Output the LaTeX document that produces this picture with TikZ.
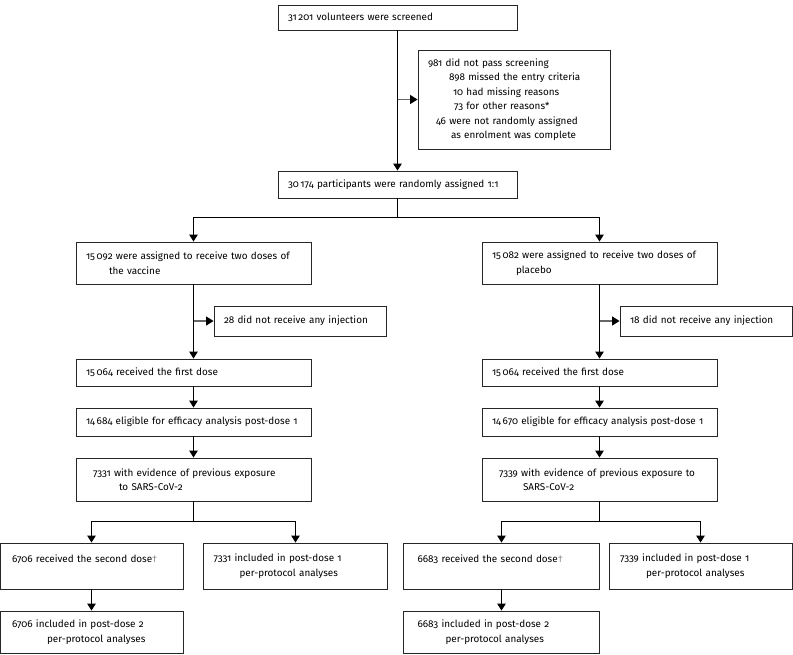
\documentclass[tikz,border=0pt]{standalone}
\usepackage{fontspec}
\setmainfont{Fira Sans}[Numbers=OldStyle]
\usepackage{xcolor}
\usepackage{tikz}
\usetikzlibrary{arrows.meta}

\tikzset{
	box/.style={draw=black!85, line width=0.9pt, rectangle, align=left, inner xsep=10pt, inner ysep=0pt, font=\fontsize{9.9}{14.5}\selectfont},
	flow/.style={line width=1.2pt, -{Triangle[length=7pt,width=8.5pt]}},
	side/.style={line width=1.2pt, draw=black!60, -{Triangle[length=7.5pt,width=9pt,color=black]}},
	stem/.style={line width=1.2pt}
}

\begin{document}
\begin{tikzpicture}[x=1pt, y=-1pt]
	\useasboundingbox (0,0) rectangle (793,654);
	\node[box, text width=219, minimum height=25] (screen) at (397.5,17.5) {31\,201 volunteers were screened};
	\node[box, text width=172, minimum height=99] (excl) at (514,99.5) {981 did not pass screening\\
		\hspace*{21pt}898 missed the entry criteria\\
		\hspace*{25pt}10 had missing reasons\\
		\hspace*{26pt}73 for other reasons*\\
		\hspace*{8pt}46 were not randomly assigned\\
		\hspace*{23pt}as enrolment was complete};
	\node[box, text width=219, minimum height=27] (random) at (397.5,184.5) {30\,174 participants were randomly assigned 1:1};
	\coordinate (split) at (397.5,217.5);

	\node[box, text width=215, minimum height=42] (vacc) at (193.5,263) {15\,092 were assigned to receive two doses of\\\hspace*{23pt}the vaccine};
	\node[box, text width=152, minimum height=30] (noinjL) at (300,321) {28 did not receive any injection};
	\node[box, text width=215, minimum height=27] (doseL) at (193.5,372.5) {15\,064 received the first dose};
	\node[box, text width=221, inner xsep=7pt, minimum height=28] (eligL) at (193.5,422) {\hspace*{3pt}14\,684 eligible for efficacy analysis post-dose 1};
	\node[box, text width=215, minimum height=43] (expoL) at (193.5,479.5) {\hspace*{7pt}7331 with evidence of previous exposure\\\hspace*{33pt}to SARS-CoV-2};
	\coordinate (splitL) at (193.5,521.5);
	\node[box, text width=163, minimum height=46] (dosetwoL) at (91.5,566) {\hspace*{2pt}6706 received the second dose{\color{black!45}\textdagger}\\\mbox{}};
	\node[box, text width=164, minimum height=46] (pponeL) at (295.5,566) {7331 included in post-dose 1\\\hspace*{26pt}per-protocol analyses};
	\node[box, text width=163, minimum height=42] (pptwoL) at (91.5,632) {\hspace*{2pt}6706 included in post-dose 2\\\hspace*{37pt}per-protocol analyses};

	\node[box, text width=215, minimum height=42] (plac) at (599.5,263) {15\,082 were assigned to receive two doses of\\\hspace*{24pt}placebo};
	\node[box, text width=152, minimum height=30] (noinjR) at (706,321) {18 did not receive any injection};
	\node[box, text width=215, minimum height=27] (doseR) at (599.5,372.5) {15\,064 received the first dose};
	\node[box, text width=221, inner xsep=7pt, minimum height=28] (eligR) at (599.5,422) {\hspace*{3pt}14\,670 eligible for efficacy analysis post-dose 1};
	\node[box, text width=215, minimum height=43] (expoR) at (599.5,479.5) {\hspace*{7pt}7339 with evidence of previous exposure to\\\hspace*{31pt}SARS-CoV-2};
	\coordinate (splitR) at (599.5,521.5);
	\node[box, text width=176, minimum height=46] (dosetwoR) at (501.5,566) {\hspace*{4pt}6683 received the second dose{\color{black!45}\textdagger}\\\mbox{}};
	\node[box, text width=163, minimum height=46] (pponeR) at (700.5,566) {\hspace*{1pt}7339 included in post-dose 1\\\hspace*{27pt}per-protocol analyses};
	\node[box, text width=176, minimum height=42] (pptwoR) at (501.5,632) {\hspace*{4pt}6683 included in post-dose 2\\\hspace*{32pt}per-protocol analyses};

	\draw[flow] (screen) -- (random);
	\draw[side] (excl.west -| screen) -- (excl.west);
	\draw[stem] (random) -- (split);
	\draw[flow] (split) -| (vacc.north);
	\draw[flow] (split) -| (plac.north);

	\draw[flow] (vacc) -- (doseL);
	\draw[side] (noinjL.west -| vacc) -- (noinjL.west);
	\draw[flow] (doseL) -- (eligL);
	\draw[flow] (eligL) -- (expoL);
	\draw[stem] (expoL) -- (splitL);
	\draw[flow] (splitL) -| (dosetwoL.north);
	\draw[flow] (splitL) -| (pponeL.north);
	\draw[flow] (dosetwoL) -- (pptwoL);

	\draw[flow] (plac) -- (doseR);
	\draw[side] (noinjR.west -| plac) -- (noinjR.west);
	\draw[flow] (doseR) -- (eligR);
	\draw[flow] (eligR) -- (expoR);
	\draw[stem] (expoR) -- (splitR);
	\draw[flow] (splitR) -| (dosetwoR.north);
	\draw[flow] (splitR) -| (pponeR.north);
	\draw[flow] (dosetwoR) -- (pptwoR);
\end{tikzpicture}
\end{document}
